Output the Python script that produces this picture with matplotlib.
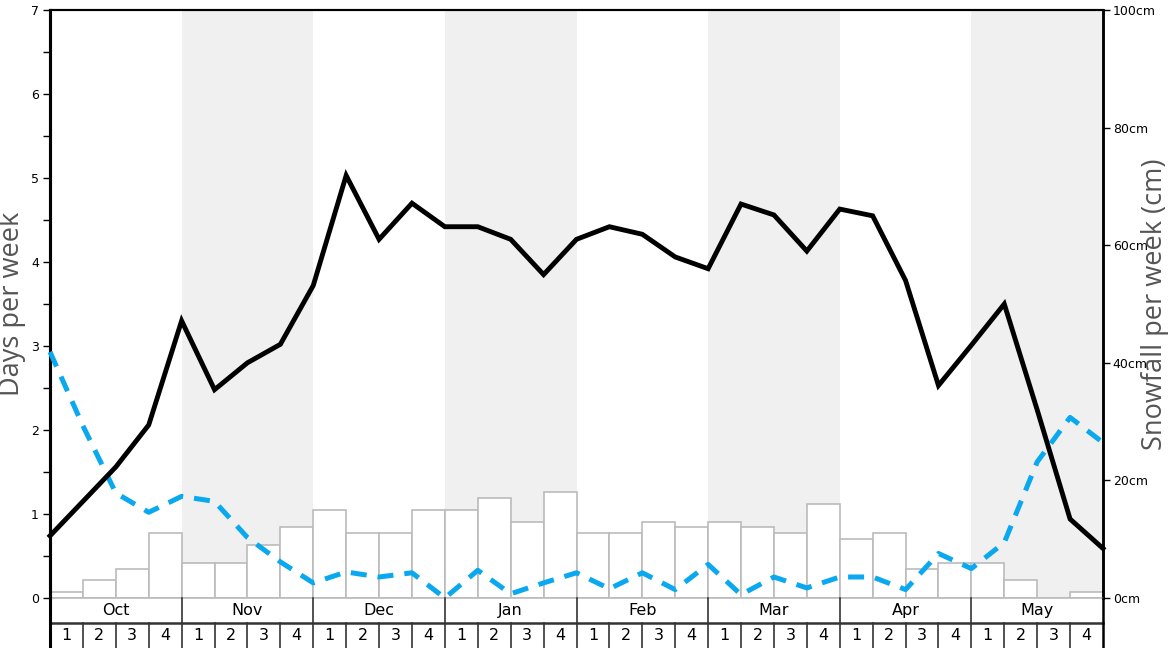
import matplotlib
matplotlib.use("Agg")
import matplotlib.pyplot as plt
import numpy as np

months = ["Oct", "Nov", "Dec", "Jan", "Feb", "Mar", "Apr", "May"]
week_labels = ["1", "2", "3", "4"]

# Snowfall per week (cm) - bars, right axis
snowfall_cm = [1, 3, 5, 11, 6, 6, 9, 12, 15, 11, 11, 15, 15, 17, 13, 18,
               11, 11, 13, 12, 13, 12, 11, 16, 10, 11, 5, 6, 6, 3, 0, 1]

# Days per week - values at week boundaries (33 points)
black_days = [0.74, 1.15, 1.56, 2.06, 3.30, 2.48, 2.80, 3.02, 3.72, 5.03, 4.27,
              4.70, 4.42, 4.42, 4.27, 3.85, 4.27, 4.42, 4.33, 4.06, 3.92, 4.69,
              4.56, 4.13, 4.63, 4.55, 3.78, 2.53, 3.01, 3.50, 2.24, 0.94, 0.59]
blue_days = [2.93, 2.05, 1.25, 1.02, 1.21, 1.15, 0.72, 0.43, 0.18, 0.31, 0.25,
             0.30, 0.0, 0.33, 0.05, 0.18, 0.30, 0.11, 0.30, 0.10, 0.40, 0.04,
             0.25, 0.12, 0.25, 0.25, 0.10, 0.53, 0.35, 0.66, 1.62, 2.15, 1.85]

right_ticks = [0, 20, 40, 60, 80, 100]

W, H = 1168, 648
fig = plt.figure(figsize=(W / 100, H / 100), dpi=100)
x0, x1, ytop, ybot = 50, 1103, 10, 598
ax = fig.add_axes([x0 / W, (H - ybot) / H, (x1 - x0) / W, (ybot - ytop) / H])
ax2 = ax.twinx()

nweeks = len(snowfall_cm)
ax.set_xlim(0, nweeks)
ax.set_ylim(0, 7)
ax2.set_ylim(0, 100)

ax2.set_zorder(1)
ax.set_zorder(2)
ax.patch.set_visible(False)
ax2.patch.set_visible(True)
ax2.patch.set_facecolor("white")

# shading for alternating months (on the lower axes, beneath bars)
for m in range(len(months)):
    if m % 2 == 1:
        ax2.axvspan(m * 4, m * 4 + 4, color="#f0f0f0", lw=0, zorder=0)

# bars on right axis
ax2.bar(np.arange(nweeks) + 0.5, snowfall_cm, width=1.0, color="white",
        edgecolor="#bbbbbb", linewidth=1.2, zorder=1)

xs = np.arange(len(black_days))
ax.plot(xs, blue_days, color="#0aa8ee", lw=3.6, dashes=(3.2, 2.2),
        solid_capstyle="butt", dash_capstyle="butt", zorder=3, clip_on=False)
ax.plot(xs, black_days, color="black", lw=3.5, zorder=4,
        solid_joinstyle="miter", clip_on=False)

# ticks
ax.set_yticks(range(0, 8))
ax.set_yticks(np.arange(0.5, 7, 1.0), minor=True)
ax.tick_params(axis="y", which="major", length=5, width=1, labelsize=9, pad=3)
ax.tick_params(axis="y", which="minor", length=5, width=1)
ax.set_xticks([])
ax2.set_yticks(right_ticks)
ax2.set_yticklabels([f"{t}cm" for t in right_ticks])
ax2.tick_params(axis="y", length=5, width=1, labelsize=9, pad=2)

for a in (ax, ax2):
    a.spines["bottom"].set_visible(False)
    a.spines["top"].set_linewidth(1.5)
    a.spines["left"].set_linewidth(2.2)
    a.spines["right"].set_linewidth(1.8)

# axis titles
fig.text(12 / W, 1 - 304 / H, "Days per week", rotation=90, ha="center", va="center",
         fontsize=19.5, color="#555555", family=["Open Sans", "DejaVu Sans"])
fig.text(1155 / W, 1 - 304 / H, "Snowfall per week (cm)", rotation=90, ha="center",
         va="center", fontsize=19.5, color="#555555", family=["Open Sans", "DejaVu Sans"])

# rows beneath axis
plot_h = ybot - ytop
r1 = -25 / plot_h
r2 = -50 / plot_h
tr = ax.get_xaxis_transform()
ax.plot([0, nweeks], [0, 0], transform=tr, color="#bbbbbb", lw=1.2, clip_on=False, zorder=5)
ax.plot([0, nweeks], [r1, r1], transform=tr, color="#333333", lw=1.8, clip_on=False, zorder=5)
ax.plot([0, 0], [0, r2], transform=tr, color="black", lw=2.2, clip_on=False, zorder=6)
ax.plot([nweeks, nweeks], [0, r2], transform=tr, color="black", lw=1.8, clip_on=False, zorder=6)
for m in range(1, len(months)):
    ax.plot([m * 4, m * 4], [0, r1], transform=tr, color="#333333", lw=1.2, clip_on=False, zorder=5)
for w in range(1, nweeks):
    ax.plot([w, w], [r1, r2], transform=tr, color="#333333", lw=1.2, clip_on=False, zorder=5)
for m, name in enumerate(months):
    ax.text(m * 4 + 2, r1 / 2, name, transform=tr, ha="center", va="center",
            fontsize=11.5, color="black")
for w in range(nweeks):
    ax.text(w + 0.5, (r1 + r2) / 2, week_labels[w % 4], transform=tr, ha="center",
            va="center", fontsize=11.5, color="black")

fig.savefig("out.png", dpi=100)
